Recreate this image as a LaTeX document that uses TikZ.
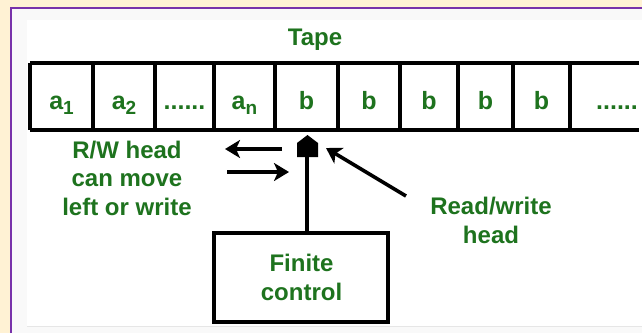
\documentclass[tikz,border=0pt]{standalone}
\usepackage{fontspec}
\setmainfont{Liberation Sans}
\usetikzlibrary{arrows.meta}
\definecolor{cream}{RGB}{255,242,212}
\definecolor{frame}{RGB}{120,50,170}
\definecolor{labelgreen}{RGB}{30,115,30}
\definecolor{paneledge}{RGB}{230,230,230}
\definecolor{margin}{RGB}{249,249,249}
\newcommand{\sym}[2]{#1{\fontsize{19}{19}\selectfont\raisebox{-5pt}{#2}}}
\begin{document}
\begin{tikzpicture}[x=1pt,y=-1pt,
  lbl/.style={font=\bfseries\fontsize{24}{28.5}\selectfont, text=labelgreen, align=center, inner sep=0pt, anchor=base},
  cell/.style={font=\bfseries\fontsize{25}{25}\selectfont, text=labelgreen, anchor=base, inner sep=0pt},
  wire/.style={line width=3.5pt},
  mover/.style={line width=3.6pt, -{Stealth[length=15pt,width=18pt,inset=4pt]}}]
  \useasboundingbox (0,0) rectangle (642,333);

  % page background and framed panel
  \fill[cream] (0,0) rectangle (642,333);
  \fill[margin] (11,8) rectangle (642,333);
  \fill[white] (27,20) rectangle (642,326);
  \draw[paneledge, line width=1pt] (27,326) -- (642,326);
  \draw[frame, line width=1.5pt] (11,333) -- (11,8) -- (642,8);

  % tape
  \node[lbl] (tape) at (315,45) {Tape};
  \draw[wire] (30,63) -- (639,63);
  \draw[wire] (30,130) -- (639,130);
  \foreach \x in {30,93,155,214,275,338,400,458,513,570}
    \draw[wire] (\x,63) -- (\x,130);

  \node[cell] (c1) at (61.5,109) {\sym{a}{1}};
  \node[cell] (c2) at (124,109) {\sym{a}{2}};
  \node[cell] (c3) at (184.5,109) {......};
  \node[cell] (c4) at (244.5,109) {\sym{a}{n}};
  \node[cell] (c5) at (306.5,109) {b};
  \node[cell] (c6) at (369,109) {b};
  \node[cell] (c7) at (429,109) {b};
  \node[cell] (c8) at (485.5,109) {b};
  \node[cell] (c9) at (541.5,109) {b};
  \node[cell] (c10) at (617,109) {......};

  % read/write head
  \fill (297,157) -- (318,157) -- (318,143) -- (307.5,135) -- (297,143) -- cycle;
  \coordinate (headbase) at (307,157);
  \coordinate (headtip) at (326,148);

  % finite control
  \draw[wire] (214,233) rectangle (388,322);
  \coordinate (ctrltop) at (307,233);
  \node[lbl] (ctrl) at (301.5,300) {Finite\\control};
  \draw[wire] (ctrltop) -- (headbase);

  % head movement
  \coordinate (lstart) at (282,149);
  \coordinate (lend) at (225,149);
  \coordinate (rstart) at (227,172);
  \coordinate (rend) at (289,172);
  \draw[mover] (lstart) -- (lend);
  \draw[mover] (rstart) -- (rend);
  \node[lbl] (move) at (127,215) {R/W head\\can move\\left or write};

  % pointer to the head
  \coordinate (rwstart) at (406,196);
  \draw[mover] (rwstart) -- (headtip);
  \node[lbl] (rw) at (491,243) {Read/write\\head};
\end{tikzpicture}
\end{document}
